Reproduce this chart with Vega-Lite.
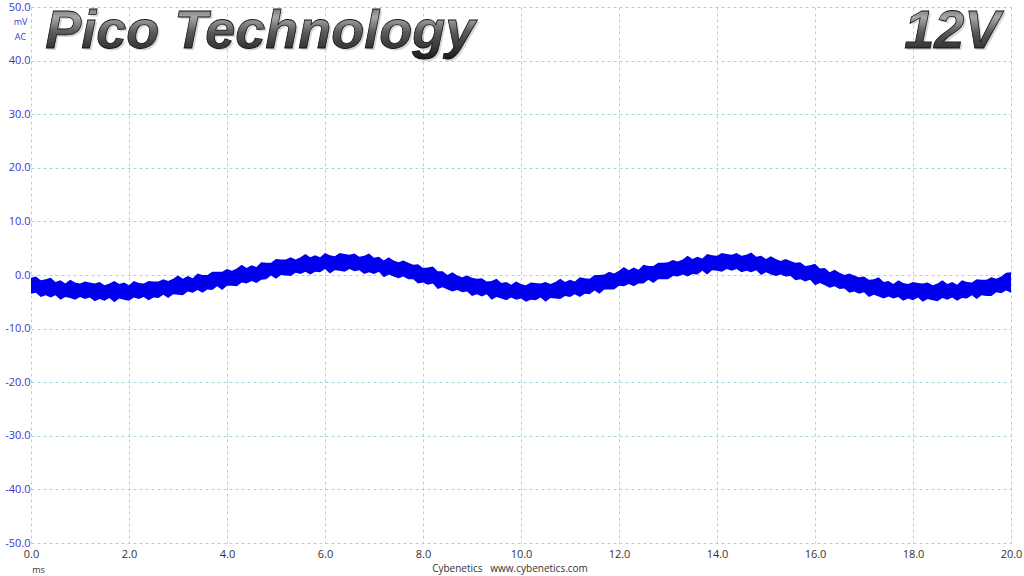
{
  "$schema": "https://vega.github.io/schema/vega-lite/v6.json",
  "autosize": {"type": "none"},
  "width": 980,
  "height": 536,
  "padding": {"left": 31, "top": 7, "right": 13, "bottom": 33},
  "background": "white",
  "config": {
    "view": {"stroke": null},
    "font": "Open Sans"
  },
  "title": {
    "text": "Cybenetics\u00a0\u00a0\u00a0www.cybenetics.com",
    "orient": "bottom",
    "anchor": "middle",
    "dx": -11,
    "offset": -10,
    "font": "Open Sans",
    "fontSize": 10,
    "fontWeight": "normal",
    "color": "#333333"
  },
  "datasets": {
    "wave": [
      {"t":0.0,"hi":-0.5,"lo":-3.5},{"t":0.1,"hi":-0.3,"lo":-3.3},{"t":0.2,"hi":-1.0,"lo":-4.1},{"t":0.3,"hi":-0.8,"lo":-3.8},{"t":0.4,"hi":-0.5,"lo":-4.2},
      {"t":0.5,"hi":-1.3,"lo":-3.8},{"t":0.6,"hi":-1.0,"lo":-4.6},{"t":0.7,"hi":-1.6,"lo":-4.1},{"t":0.8,"hi":-0.9,"lo":-4.3},{"t":0.9,"hi":-1.4,"lo":-4.6},
      {"t":1.0,"hi":-1.6,"lo":-4.1},{"t":1.1,"hi":-1.2,"lo":-4.5},{"t":1.2,"hi":-1.4,"lo":-4.2},{"t":1.3,"hi":-1.6,"lo":-4.9},{"t":1.4,"hi":-1.3,"lo":-4.5},
      {"t":1.5,"hi":-1.9,"lo":-4.8},{"t":1.6,"hi":-1.6,"lo":-4.3},{"t":1.7,"hi":-1.1,"lo":-5.1},{"t":1.8,"hi":-1.7,"lo":-4.4},{"t":1.9,"hi":-1.4,"lo":-4.6},
      {"t":2.0,"hi":-1.9,"lo":-4.8},{"t":2.1,"hi":-1.1,"lo":-4.2},{"t":2.2,"hi":-1.5,"lo":-4.5},{"t":2.3,"hi":-1.6,"lo":-4.1},{"t":2.4,"hi":-1.1,"lo":-4.7},
      {"t":2.5,"hi":-1.2,"lo":-4.2},{"t":2.6,"hi":-1.2,"lo":-4.3},{"t":2.7,"hi":-0.8,"lo":-3.7},{"t":2.8,"hi":-1.1,"lo":-4.3},{"t":2.9,"hi":-0.7,"lo":-3.6},
      {"t":3.0,"hi":-0.1,"lo":-3.7},{"t":3.1,"hi":-0.7,"lo":-3.8},{"t":3.2,"hi":-0.2,"lo":-3.1},{"t":3.3,"hi":-0.6,"lo":-3.3},{"t":3.4,"hi":0.3,"lo":-2.8},
      {"t":3.5,"hi":0.0,"lo":-3.3},{"t":3.6,"hi":0.0,"lo":-2.7},{"t":3.7,"hi":0.6,"lo":-2.8},{"t":3.8,"hi":0.6,"lo":-2.1},{"t":3.9,"hi":0.6,"lo":-2.8},
      {"t":4.0,"hi":1.1,"lo":-2.0},{"t":4.1,"hi":0.8,"lo":-2.0},{"t":4.2,"hi":1.2,"lo":-2.1},{"t":4.3,"hi":1.9,"lo":-1.4},{"t":4.4,"hi":1.3,"lo":-1.6},
      {"t":4.5,"hi":1.8,"lo":-1.1},{"t":4.6,"hi":1.5,"lo":-1.5},{"t":4.7,"hi":2.4,"lo":-0.9},{"t":4.8,"hi":2.3,"lo":-0.8},{"t":4.9,"hi":2.3,"lo":-0.1},
      {"t":5.0,"hi":3.0,"lo":-0.7},{"t":5.1,"hi":2.9,"lo":0.0},{"t":5.2,"hi":2.9,"lo":-0.1},{"t":5.3,"hi":3.3,"lo":-0.2},{"t":5.4,"hi":2.9,"lo":0.4},
      {"t":5.5,"hi":3.3,"lo":0.2},{"t":5.6,"hi":3.9,"lo":0.6},{"t":5.7,"hi":3.3,"lo":0.1},{"t":5.8,"hi":3.7,"lo":0.6},{"t":5.9,"hi":3.3,"lo":0.5},
      {"t":6.0,"hi":4.1,"lo":1.1},{"t":6.1,"hi":3.7,"lo":0.3},{"t":6.2,"hi":3.5,"lo":0.9},{"t":6.3,"hi":4.1,"lo":0.8},{"t":6.4,"hi":3.9,"lo":0.6},
      {"t":6.5,"hi":3.8,"lo":1.1},{"t":6.6,"hi":4.0,"lo":0.7},{"t":6.7,"hi":3.4,"lo":0.9},{"t":6.8,"hi":3.6,"lo":0.2},{"t":6.9,"hi":4.0,"lo":0.5},
      {"t":7.0,"hi":3.2,"lo":0.2},{"t":7.1,"hi":3.4,"lo":0.6},{"t":7.2,"hi":2.7,"lo":-0.4},{"t":7.3,"hi":3.3,"lo":0.1},{"t":7.4,"hi":2.7,"lo":-0.3},
      {"t":7.5,"hi":2.4,"lo":-0.6},{"t":7.6,"hi":2.7,"lo":-0.3},{"t":7.7,"hi":2.3,"lo":-0.8},{"t":7.8,"hi":1.9,"lo":-0.8},{"t":7.9,"hi":2.0,"lo":-1.6},
      {"t":8.0,"hi":1.3,"lo":-1.4},{"t":8.1,"hi":1.4,"lo":-1.8},{"t":8.2,"hi":1.6,"lo":-1.6},{"t":8.3,"hi":0.7,"lo":-2.6},{"t":8.4,"hi":0.7,"lo":-2.3},
      {"t":8.5,"hi":0.0,"lo":-2.7},{"t":8.6,"hi":0.5,"lo":-3.1},{"t":8.7,"hi":-0.1,"lo":-2.8},{"t":8.8,"hi":-0.4,"lo":-3.2},{"t":8.9,"hi":-0.1,"lo":-3.1},
      {"t":9.0,"hi":-0.5,"lo":-3.9},{"t":9.1,"hi":-0.7,"lo":-3.6},{"t":9.2,"hi":-0.6,"lo":-4.0},{"t":9.3,"hi":-1.2,"lo":-3.6},{"t":9.4,"hi":-1.1,"lo":-4.6},
      {"t":9.5,"hi":-0.7,"lo":-4.1},{"t":9.6,"hi":-1.5,"lo":-4.4},{"t":9.7,"hi":-1.3,"lo":-4.7},{"t":9.8,"hi":-1.8,"lo":-4.2},{"t":9.9,"hi":-1.2,"lo":-4.6},
      {"t":10.0,"hi":-1.7,"lo":-4.4},{"t":10.1,"hi":-1.9,"lo":-5.0},{"t":10.2,"hi":-1.4,"lo":-4.6},{"t":10.3,"hi":-1.5,"lo":-4.7},{"t":10.4,"hi":-1.6,"lo":-4.2},
      {"t":10.5,"hi":-1.3,"lo":-5.0},{"t":10.6,"hi":-1.7,"lo":-4.3},{"t":10.7,"hi":-1.3,"lo":-4.4},{"t":10.8,"hi":-0.7,"lo":-4.5},{"t":10.9,"hi":-1.3,"lo":-3.9},
      {"t":11.0,"hi":-0.9,"lo":-4.1},{"t":11.1,"hi":-1.2,"lo":-3.6},{"t":11.2,"hi":-0.4,"lo":-4.1},{"t":11.3,"hi":-0.6,"lo":-3.5},{"t":11.4,"hi":-0.7,"lo":-3.6},
      {"t":11.5,"hi":0.0,"lo":-2.9},{"t":11.6,"hi":0.0,"lo":-3.5},{"t":11.7,"hi":0.1,"lo":-2.7},{"t":11.8,"hi":0.6,"lo":-2.7},{"t":11.9,"hi":0.3,"lo":-2.7},
      {"t":12.0,"hi":0.8,"lo":-2.0},{"t":12.1,"hi":1.5,"lo":-2.1},{"t":12.2,"hi":0.9,"lo":-1.7},{"t":12.3,"hi":1.4,"lo":-2.1},{"t":12.4,"hi":1.0,"lo":-1.6},
      {"t":12.5,"hi":1.9,"lo":-1.6},{"t":12.6,"hi":1.7,"lo":-0.9},{"t":12.7,"hi":1.7,"lo":-1.5},{"t":12.8,"hi":2.3,"lo":-0.8},{"t":12.9,"hi":2.3,"lo":-0.8},
      {"t":13.0,"hi":2.4,"lo":-0.8},{"t":13.1,"hi":2.8,"lo":-0.2},{"t":13.2,"hi":2.5,"lo":-0.3},{"t":13.3,"hi":2.9,"lo":0.1},{"t":13.4,"hi":3.6,"lo":-0.3},
      {"t":13.5,"hi":3.0,"lo":0.2},{"t":13.6,"hi":3.4,"lo":0.1},{"t":13.7,"hi":3.1,"lo":0.8},{"t":13.8,"hi":3.9,"lo":0.1},{"t":13.9,"hi":3.7,"lo":0.9},
      {"t":14.0,"hi":3.6,"lo":0.8},{"t":14.1,"hi":4.1,"lo":0.6},{"t":14.2,"hi":3.9,"lo":1.1},{"t":14.3,"hi":3.8,"lo":0.8},{"t":14.4,"hi":4.1,"lo":1.1},
      {"t":14.5,"hi":3.6,"lo":0.5},{"t":14.6,"hi":3.8,"lo":0.8},{"t":14.7,"hi":4.2,"lo":0.5},{"t":14.8,"hi":3.4,"lo":0.9},{"t":14.9,"hi":3.6,"lo":0.0},
      {"t":15.0,"hi":3.0,"lo":0.5},{"t":15.1,"hi":3.5,"lo":0.1},{"t":15.2,"hi":3.0,"lo":-0.2},{"t":15.3,"hi":2.6,"lo":0.1},{"t":15.4,"hi":3.0,"lo":-0.3},
      {"t":15.5,"hi":2.6,"lo":-0.2},{"t":15.6,"hi":2.3,"lo":-1.0},{"t":15.7,"hi":2.4,"lo":-0.8},{"t":15.8,"hi":1.7,"lo":-1.2},{"t":15.9,"hi":1.8,"lo":-0.9},
      {"t":16.0,"hi":2.1,"lo":-1.9},{"t":16.1,"hi":1.2,"lo":-1.5},{"t":16.2,"hi":1.3,"lo":-1.9},{"t":16.3,"hi":0.5,"lo":-2.4},{"t":16.4,"hi":1.0,"lo":-2.1},
      {"t":16.5,"hi":0.4,"lo":-2.6},{"t":16.6,"hi":0.0,"lo":-2.5},{"t":16.7,"hi":0.3,"lo":-3.3},{"t":16.8,"hi":-0.1,"lo":-3.1},{"t":16.9,"hi":-0.4,"lo":-3.5},
      {"t":17.0,"hi":-0.3,"lo":-3.2},{"t":17.1,"hi":-0.9,"lo":-4.1},{"t":17.2,"hi":-0.8,"lo":-3.7},{"t":17.3,"hi":-0.4,"lo":-4.0},{"t":17.4,"hi":-1.3,"lo":-4.4},
      {"t":17.5,"hi":-1.1,"lo":-4.0},{"t":17.6,"hi":-1.7,"lo":-4.4},{"t":17.7,"hi":-1.0,"lo":-4.1},{"t":17.8,"hi":-1.5,"lo":-4.8},{"t":17.9,"hi":-1.7,"lo":-4.4},
      {"t":18.0,"hi":-1.3,"lo":-4.7},{"t":18.1,"hi":-1.5,"lo":-4.2},{"t":18.2,"hi":-1.6,"lo":-5.0},{"t":18.3,"hi":-1.4,"lo":-4.5},{"t":18.4,"hi":-1.9,"lo":-4.7},
      {"t":18.5,"hi":-1.6,"lo":-4.9},{"t":18.6,"hi":-1.0,"lo":-4.3},{"t":18.7,"hi":-1.7,"lo":-4.6},{"t":18.8,"hi":-1.3,"lo":-4.2},{"t":18.9,"hi":-1.8,"lo":-4.8},
      {"t":19.0,"hi":-1.0,"lo":-4.3},{"t":19.1,"hi":-1.3,"lo":-4.4},{"t":19.2,"hi":-1.4,"lo":-3.8},{"t":19.3,"hi":-0.8,"lo":-4.5},{"t":19.4,"hi":-0.9,"lo":-3.8},
      {"t":19.5,"hi":-0.9,"lo":-3.9},{"t":19.6,"hi":-0.4,"lo":-3.9},{"t":19.7,"hi":-0.7,"lo":-3.2},{"t":19.8,"hi":-0.3,"lo":-3.4},{"t":19.9,"hi":0.4,"lo":-2.9},
      {"t":20.0,"hi":0.5,"lo":-3.3}
    ]
  },
  "layer": [
    {
      "data": {"name": "wave"},
      "mark": {"type": "area", "color": "#0000ee", "opacity": 1, "interpolate": "linear"},
      "encoding": {
        "x": {
          "field": "t", "type": "quantitative",
          "scale": {"domain": [0, 20], "nice": false, "zero": false},
          "axis": {
            "values": [0, 2, 4, 6, 8, 10, 12, 14, 16, 18, 20],
            "format": ".1f",
            "grid": true,
            "gridColor": "#a9d5e3",
            "gridDash": [3, 3],
            "gridWidth": 1,
            "domain": false,
            "ticks": false,
            "labelPadding": 5,
            "labelFont": "Open Sans",
            "labelFontSize": 11,
            "labelColor": "#333333",
            "labelFlush": false,
            "title": "ms",
            "titleFont": "Open Sans",
            "titleFontSize": 9,
            "titleFontWeight": "normal",
            "titleColor": "#333333",
            "titleX": 7,
            "titleY": 22,
            "titleAlign": "center",
            "titleBaseline": "top"
          }
        },
        "y": {
          "field": "lo", "type": "quantitative",
          "scale": {"domain": [-50, 50], "nice": false, "zero": false},
          "axis": {
            "values": [-50, -40, -30, -20, -10, 0, 10, 20, 30, 40, 50],
            "labelExpr": "replace(format(datum.value, '.1f'), '\u2212', '-')",
            "grid": true,
            "gridColor": "#a9d5e3",
            "gridDash": [3, 3],
            "gridWidth": 1,
            "domain": false,
            "ticks": false,
            "labelPadding": 1,
            "labelFont": "Open Sans",
            "labelFontSize": 11,
            "labelColor": "#3838c8",
            "labelFlush": false,
            "title": ["mV", "AC"],
            "titleAngle": 0,
            "titleFont": "Open Sans",
            "titleFontSize": 9,
            "titleFontWeight": "normal",
            "titleColor": "#3838c8",
            "titleX": -11,
            "titleY": 10,
            "titleAlign": "center",
            "titleBaseline": "top",
            "titleLineHeight": 15
          }
        },
        "y2": {"field": "hi"}
      }
    },
    {
      "data": {"values": [{"x": 0.29, "y": 42.3, "label": "Pico Technology"}]},
      "mark": {"type": "text", "align": "left", "baseline": "alphabetic", "font": "Liberation Sans", "fontSize": 54, "fontWeight": "bold", "fontStyle": "italic", "fill": "#b0b0b0", "dx": 2, "dy": 2, "opacity": 0.5},
      "encoding": {"x": {"field": "x", "type": "quantitative"}, "y": {"field": "y", "type": "quantitative"}, "text": {"field": "label"}}
    },
    {
      "data": {"values": [{"x": 0.29, "y": 42.3, "label": "Pico Technology"}]},
      "mark": {"type": "text", "align": "left", "baseline": "alphabetic", "font": "Liberation Sans", "fontSize": 54, "fontWeight": "bold", "fontStyle": "italic",
        "fill": {"gradient": "linear", "x1": 0, "y1": 0, "x2": 0, "y2": 1, "stops": [{"offset": 0, "color": "#4a4a4a"}, {"offset": 0.3, "color": "#a8a8a8"}, {"offset": 0.55, "color": "#5a5a5a"}, {"offset": 1, "color": "#1a1a1a"}]},
        "stroke": "#111111", "strokeWidth": 0.8},
      "encoding": {"x": {"field": "x", "type": "quantitative"}, "y": {"field": "y", "type": "quantitative"}, "text": {"field": "label"}}
    },
    {
      "data": {"values": [{"x": 19.78, "y": 42.3, "label": "12V"}]},
      "mark": {"type": "text", "align": "right", "baseline": "alphabetic", "font": "Liberation Sans", "fontSize": 54, "fontWeight": "bold", "fontStyle": "italic", "fill": "#b0b0b0", "dx": 2, "dy": 2, "opacity": 0.5},
      "encoding": {"x": {"field": "x", "type": "quantitative"}, "y": {"field": "y", "type": "quantitative"}, "text": {"field": "label"}}
    },
    {
      "data": {"values": [{"x": 19.78, "y": 42.3, "label": "12V"}]},
      "mark": {"type": "text", "align": "right", "baseline": "alphabetic", "font": "Liberation Sans", "fontSize": 54, "fontWeight": "bold", "fontStyle": "italic",
        "fill": {"gradient": "linear", "x1": 0, "y1": 0, "x2": 0, "y2": 1, "stops": [{"offset": 0, "color": "#4a4a4a"}, {"offset": 0.3, "color": "#a8a8a8"}, {"offset": 0.55, "color": "#5a5a5a"}, {"offset": 1, "color": "#1a1a1a"}]},
        "stroke": "#111111", "strokeWidth": 0.8},
      "encoding": {"x": {"field": "x", "type": "quantitative"}, "y": {"field": "y", "type": "quantitative"}, "text": {"field": "label"}}
    }
  ]
}
